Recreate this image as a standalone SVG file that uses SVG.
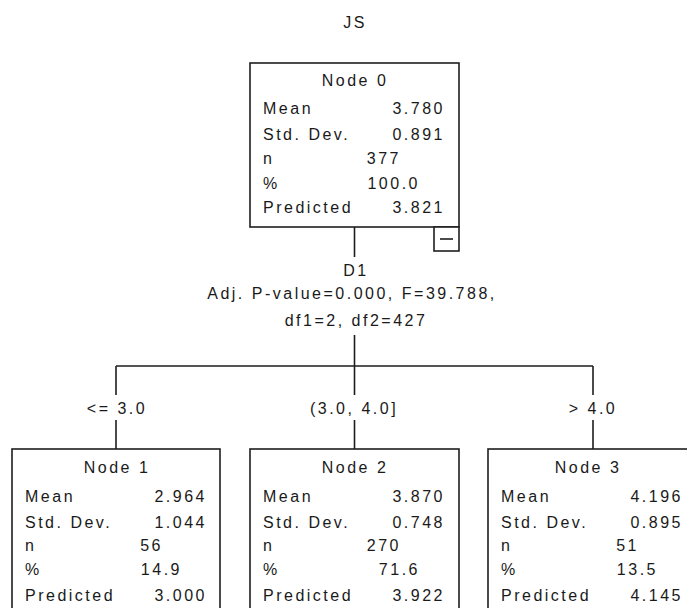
<svg xmlns="http://www.w3.org/2000/svg" width="687" height="608" viewBox="0 0 687 608">
  <style>
    text { font-family: "Liberation Sans", Arial, sans-serif; font-size: 16px; letter-spacing: 2.5px; fill: #1a1a1a; }
    .mid { text-anchor: middle; }
    .end { text-anchor: end; }
    .box { fill: #ffffff; stroke: #1e1e1e; stroke-width: 1.6; }
    .link { fill: none; stroke: #1e1e1e; stroke-width: 1.6; }
  </style>
  <rect width="687" height="608" fill="#ffffff"/>

  <text id="title" class="mid" x="355" y="28">JS</text>

  <!-- connectors and split labels -->
  <g id="connectors">
    <path class="link" d="M354.5 227 V257 M354.5 335 V366 M116 366 H593 M116 366 V395 M116 420 V449 M354.5 366 V395 M354.5 420 V449 M593 366 V395 M593 420 V449"/>
    <text class="mid" x="356" y="276">D1</text>
    <text class="mid" x="352" y="299">Adj. P-value=0.000, F=39.788,</text>
    <text class="mid" x="356" y="326">df1=2, df2=427</text>
    <text class="mid" x="117" y="414">&lt;= 3.0</text>
    <text class="mid" x="354" y="414">(3.0, 4.0]</text>
    <text class="mid" x="593" y="414">&gt; 4.0</text>
  </g>

  <!-- root node -->
  <g id="node0">
    <rect class="box" x="250" y="63" width="209" height="164"/>
    <text class="mid" x="355" y="86">Node 0</text>
    <text x="263" y="114">Mean</text>
    <text class="end" x="445" y="114">3.780</text>
    <text x="263" y="140">Std. Dev.</text>
    <text class="end" x="445" y="140">0.891</text>
    <text x="263" y="164">n</text>
    <text class="end" x="401" y="164">377</text>
    <text x="263" y="189">%</text>
    <text class="end" x="420" y="189">100.0</text>
    <text x="263" y="213">Predicted</text>
    <text class="end" x="445" y="213">3.821</text>
    <rect class="box" x="434" y="227" width="25" height="24"/>
    <path class="link" d="M440 239 H453"/>
  </g>

  <g id="node1">
    <rect class="box" x="12" y="449" width="208" height="175"/>
    <text class="mid" x="117" y="473">Node 1</text>
    <text x="25" y="502">Mean</text>
    <text class="end" x="207" y="502">2.964</text>
    <text x="25" y="528">Std. Dev.</text>
    <text class="end" x="207" y="528">1.044</text>
    <text x="25" y="551">n</text>
    <text class="end" x="163" y="551">56</text>
    <text x="25" y="575">%</text>
    <text class="end" x="182" y="575">14.9</text>
    <text x="25" y="601">Predicted</text>
    <text class="end" x="207" y="601">3.000</text>
  </g>

  <g id="node2">
    <rect class="box" x="250" y="449" width="209" height="175"/>
    <text class="mid" x="355" y="473">Node 2</text>
    <text x="263" y="502">Mean</text>
    <text class="end" x="445" y="502">3.870</text>
    <text x="263" y="528">Std. Dev.</text>
    <text class="end" x="445" y="528">0.748</text>
    <text x="263" y="551">n</text>
    <text class="end" x="401" y="551">270</text>
    <text x="263" y="575">%</text>
    <text class="end" x="420" y="575">71.6</text>
    <text x="263" y="601">Predicted</text>
    <text class="end" x="445" y="601">3.922</text>
  </g>

  <g id="node3">
    <rect class="box" x="488" y="449" width="209" height="175"/>
    <text class="mid" x="588" y="473">Node 3</text>
    <text x="501" y="502">Mean</text>
    <text class="end" x="683" y="502">4.196</text>
    <text x="501" y="528">Std. Dev.</text>
    <text class="end" x="683" y="528">0.895</text>
    <text x="501" y="551">n</text>
    <text class="end" x="639" y="551">51</text>
    <text x="501" y="575">%</text>
    <text class="end" x="658" y="575">13.5</text>
    <text x="501" y="601">Predicted</text>
    <text class="end" x="683" y="601">4.145</text>
  </g>
</svg>
